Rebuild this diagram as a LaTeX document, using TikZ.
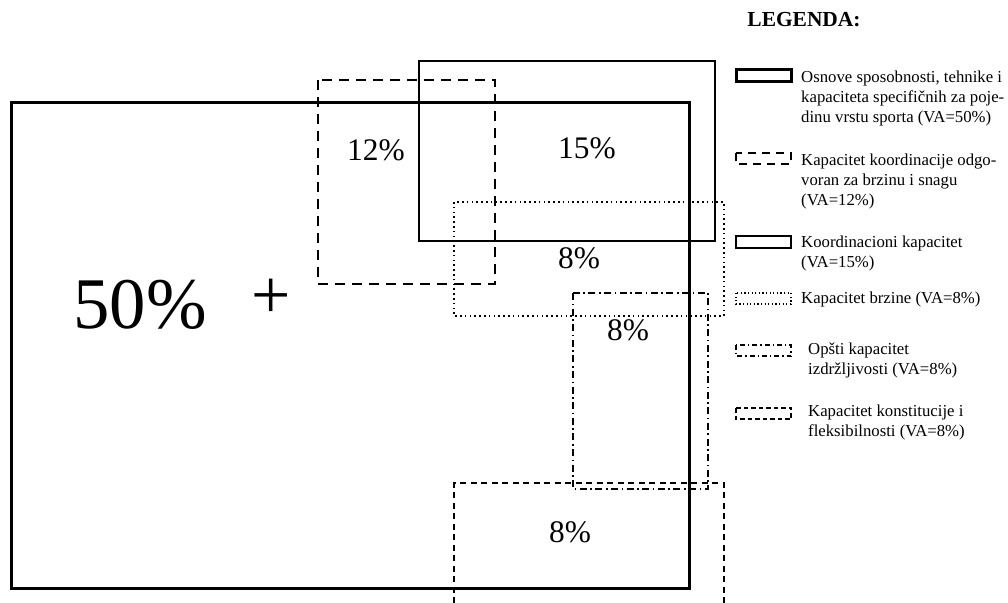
\documentclass[tikz,border=0pt]{standalone}
\usepackage{fontspec}
\setmainfont{Liberation Serif}
\begin{document}
\begin{tikzpicture}[x=1bp,y=-1bp,
  thickbox/.style={line width=3bp},
  coordbox/.style={line width=2bp, dash pattern=on 10bp off 7bp},
  thinbox/.style={line width=1.1bp},
  speedbox/.style={line width=1.6bp, dash pattern=on 1.6bp off 3.2bp},
  endurbox/.style={line width=1.6bp, dash pattern=on 7bp off 3.5bp on 1.6bp off 3.5bp},
  flexbox/.style={line width=2bp, dash pattern=on 6bp off 4.5bp},
  pct/.style={font=\fontsize{31.5}{37}\selectfont, inner sep=0},
  legtext/.style={font=\fontsize{16.8}{20}\selectfont, align=left, anchor=north west, inner sep=0}
]
\useasboundingbox (0,0) rectangle (1008,603);

% overlapping capacity regions
\draw[thickbox] (11,103) rectangle (689,588);
\draw[coordbox] (318,80) rectangle (495,284);
\draw[thinbox] (419,61) rectangle (715,241);
\draw[speedbox] (454,202) rectangle (724,316);
\draw[endurbox] (573,293) rectangle (708,489);
\draw[flexbox] (454,603) -- (454,483) -- (724,483) -- (724,603);

% shares
\node[pct] (p12) at (376,150) {12\%};
\node[pct] (p15) at (587,148) {15\%};
\node[pct] (p8a) at (579,258) {8\%};
\node[pct] (p8b) at (628,330) {8\%};
\node[pct] (p8c) at (570,532) {8\%};
\node[inner sep=0, font=\fontsize{73}{80}\selectfont] (p50) at (140,305) {50\%};
\node[inner sep=0, font=\fontsize{70}{80}\selectfont] (plus) at (271,299) {+};

% legend
\node[font=\fontsize{21.5}{24}\selectfont\bfseries, inner sep=0] (leg) at (804,20) {LEGENDA:};

\draw[thickbox] (736,70) rectangle (791,82);
\node[legtext] (l1) at (801,71) {Osnove sposobnosti, tehnike i\\kapaciteta specifičnih za poje-\\dinu vrstu sporta (VA=50\%)};

\draw[coordbox, line width=1.6bp, dash pattern=on 8bp off 6bp] (736,153) rectangle (791,164);
\node[legtext] (l2) at (801,154) {Kapacitet koordinacije odgo-\\voran za brzinu i snagu\\(VA=12\%)};

\draw[thinbox] (736,236) rectangle (791,248);
\node[legtext] (l3) at (801,236) {Koordinacioni kapacitet\\(VA=15\%)};

\draw[speedbox, line width=1.2bp, dash pattern=on 1.2bp off 2.4bp] (736,293) rectangle (791,304);
\node[legtext] (l4) at (801,292) {Kapacitet brzine (VA=8\%)};

\draw[endurbox, line width=1.3bp, dash pattern=on 5bp off 3bp on 1.3bp off 3bp] (736,345) rectangle (791,356);
\node[legtext] (l5) at (808,343) {Opšti kapacitet\\izdržljivosti (VA=8\%)};

\draw[flexbox, line width=1.5bp, dash pattern=on 4.5bp off 3bp] (736,408) rectangle (791,419);
\node[legtext] (l6) at (808,405) {Kapacitet konstitucije i\\fleksibilnosti (VA=8\%)};
\end{tikzpicture}
\end{document}
